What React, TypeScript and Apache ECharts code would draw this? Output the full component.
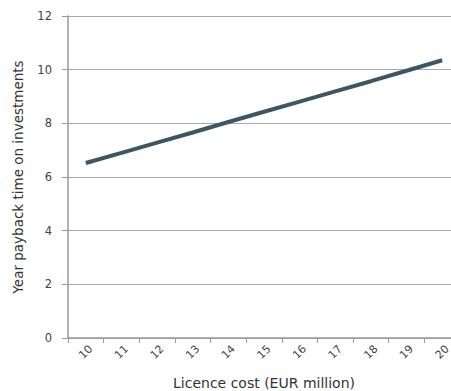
import React, { useEffect, useRef } from "react";
import * as echarts from "echarts";

const categories = ["10", "11", "12", "13", "14", "15", "16", "17", "18", "19", "20"];
const paybackYears = [6.52, 6.9, 7.28, 7.66, 8.05, 8.43, 8.81, 9.19, 9.57, 9.96, 10.35];
const yTicks = { min: 0, max: 12, interval: 2 };

const FONT = "DejaVu Sans";

export default function App() {
  const ref = useRef<HTMLDivElement>(null);
  useEffect(() => {
    if (!ref.current) return;
    const chart = echarts.init(ref.current, null, { renderer: "svg" });
    chart.setOption({
      animation: false,
      backgroundColor: "#ffffff",
      grid: {
        left: 68,
        top: 16,
        right: -9,
        bottom: 53,
        containLabel: false,
        outerBoundsMode: "none",
      },
      xAxis: {
        type: "category",
        data: categories,
        boundaryGap: true,
        name: "Licence cost (EUR million)",
        nameLocation: "middle",
        nameGap: 38,
        nameTextStyle: { fontFamily: FONT, fontSize: 14, color: "#333" },
        axisLine: { lineStyle: { color: "#999", width: 1.5 } },
        axisTick: { show: true, alignWithLabel: false, length: 5, lineStyle: { color: "#999" } },
        axisLabel: {
          rotate: 45,
          align: "center",
          verticalAlign: "middle",
          fontFamily: FONT,
          fontSize: 11,
          color: "#444",
          margin: 14,
        },
      },
      yAxis: {
        type: "value",
        min: yTicks.min,
        max: yTicks.max,
        interval: yTicks.interval,
        name: "Year payback time on investments",
        nameLocation: "middle",
        nameGap: 43,
        nameTextStyle: { fontFamily: FONT, fontSize: 13.5, color: "#333" },
        axisLine: { show: true, lineStyle: { color: "#999", width: 1.5 } },
        axisTick: { show: true, length: 6, lineStyle: { color: "#999" } },
        axisLabel: { fontFamily: FONT, fontSize: 11.5, color: "#444", margin: 16 },
        splitLine: { show: true, lineStyle: { color: "#aaa", width: 1 } },
      },
      series: [
        {
          type: "line",
          data: paybackYears,
          symbol: "none",
          lineStyle: { color: "#3d5666", width: 4 },
        },
      ],
    });
    return () => chart.dispose();
  }, []);
  return <div ref={ref} style={{ width: 451, height: 391, position: "absolute", left: 0, top: 0 }} />;
}
